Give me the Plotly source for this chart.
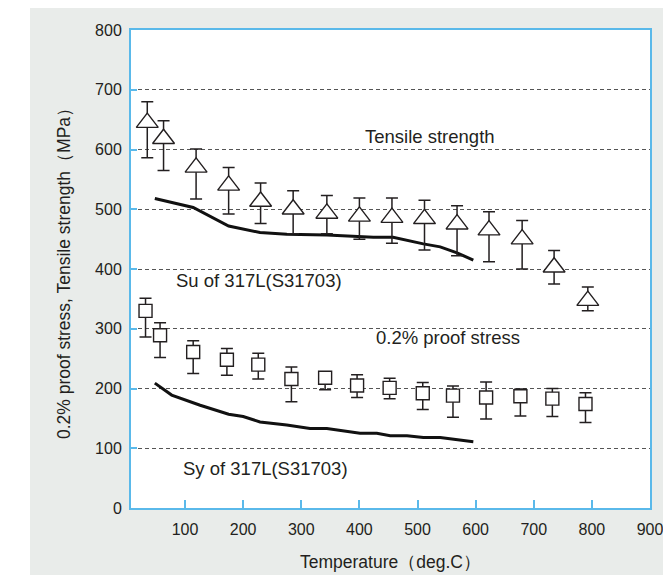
import plotly.graph_objects as go

# ---------------- data ----------------
ts_temp = [35, 63, 119, 175, 230, 286, 344, 400, 456, 512, 568, 623, 680, 735, 793]
ts_val = [645, 618, 570, 540, 513, 500, 493, 488, 486, 484, 475, 465, 450, 403, 347]
ts_hi = [680, 648, 601, 570, 544, 531, 523, 519, 519, 515, 506, 496, 481, 431, 370]
ts_lo = [586, 565, 517, 492, 476, 459, 459, 450, 443, 432, 422, 412, 400, 375, 330]

ps_temp = [32, 57, 114, 172, 226, 283, 341, 396, 452, 509, 561, 618, 677, 732, 789]
ps_val = [330, 289, 261, 248, 240, 216, 218, 205, 201, 192, 188, 185, 187, 183, 174]
ps_hi = [351, 310, 280, 267, 259, 236, 228, 223, 217, 210, 204, 211, 199, 200, 193]
ps_lo = [286, 252, 225, 222, 216, 178, 198, 185, 183, 165, 152, 149, 154, 153, 143]

su_temp = [48, 114, 175, 229, 275, 344, 424, 458, 510, 539, 568, 596]
su_val = [518, 503, 472, 461, 458, 457, 453, 453, 442, 437, 427, 415]

sy_temp = [48, 77, 126, 175, 200, 229, 275, 315, 344, 401, 430, 453, 482, 510, 539, 596]
sy_val = [209, 189, 172, 157, 153, 144, 139, 133, 133, 125, 125, 121, 121, 118, 118, 111]

x_ticks = [100, 200, 300, 400, 500, 600, 700, 800, 900]
y_ticks = [0, 100, 200, 300, 400, 500, 600, 700, 800]

labels = ["Tensile strength", "Su of 317L(S31703)", "0.2% proof stress", "Sy of 317L(S31703)"]
label_x = [522, 228, 553, 239]
label_y = [621, 380, 286, 66]

x_title = "Temperature（deg.C）"
y_title = "0.2% proof stress, Tensile strength（MPa）"

# ---------------- style ----------------
INK = "#231f20"
BLUE = "#5ab9ea"
BG = "#e9ecea"
FONT = "Liberation Sans, Arial, sans-serif"

fig = go.Figure()

fig.add_trace(go.Scatter(x=su_temp, y=su_val, mode="lines",
                         line=dict(color="#111111", width=3), hoverinfo="skip"))
fig.add_trace(go.Scatter(x=sy_temp, y=sy_val, mode="lines",
                         line=dict(color="#111111", width=3), hoverinfo="skip"))

fig.add_trace(go.Scatter(
    x=ts_temp, y=ts_val, mode="markers",
    marker=dict(symbol="triangle-up", size=19, color="white",
                line=dict(color=INK, width=1.4)),
    error_y=dict(type="data", symmetric=False,
                 array=[h - v for h, v in zip(ts_hi, ts_val)],
                 arrayminus=[v - l for l, v in zip(ts_lo, ts_val)],
                 color=INK, thickness=1.5, width=6),
))
fig.add_trace(go.Scatter(
    x=ps_temp, y=ps_val, mode="markers",
    marker=dict(symbol="square", size=13, color="white",
                line=dict(color=INK, width=1.4)),
    error_y=dict(type="data", symmetric=False,
                 array=[h - v for h, v in zip(ps_hi, ps_val)],
                 arrayminus=[v - l for l, v in zip(ps_lo, ps_val)],
                 color=INK, thickness=1.5, width=6),
))

for t, xx, yy in zip(labels, label_x, label_y):
    fig.add_annotation(x=xx, y=yy, text=t, showarrow=False, xanchor="center",
                       yanchor="middle", font=dict(family=FONT, size=18.5, color=INK))

# white strips outside the grey panel
fig.add_shape(type="rect", xref="paper", yref="paper", x0=-0.4, x1=1.2, y0=1.046, y1=1.3,
              fillcolor="white", line=dict(width=0), layer="below")
fig.add_shape(type="rect", xref="paper", yref="paper", x0=-0.4, x1=-0.1946, y0=-0.3, y1=1.3,
              fillcolor="white", line=dict(width=0), layer="below")

fig.update_layout(
    width=663, height=567,
    margin=dict(l=123, r=21, t=22, b=67),
    paper_bgcolor=BG, plot_bgcolor="white",
    showlegend=False,
    font=dict(family=FONT, color=INK, size=16),
)
fig.update_xaxes(
    range=[7, 900], tickvals=x_ticks, ticks="inside", ticklen=8, tickcolor=BLUE,
    tickwidth=1.5, showline=True, linecolor=BLUE, linewidth=2, mirror=True,
    showgrid=False, zeroline=False, ticklabelstandoff=6, automargin=False,
    tickfont=dict(family=FONT, size=16, color=INK),
    title=dict(text=x_title, font=dict(family=FONT, size=17.5, color=INK), standoff=19),
)
fig.update_yaxes(
    range=[0, 800], tickvals=y_ticks, ticks="inside", ticklen=6, tickcolor=BLUE,
    tickwidth=1.5, showline=True, linecolor=BLUE, linewidth=2, mirror=True,
    showgrid=True, gridcolor="#555555", gridwidth=1, griddash="4px,3px",
    zeroline=False, ticklabelstandoff=4, automargin=False,
    tickfont=dict(family=FONT, size=16, color=INK),
    title=dict(text=y_title, font=dict(family=FONT, size=17.5, color=INK), standoff=20),
)

fig.write_html("out.html")
